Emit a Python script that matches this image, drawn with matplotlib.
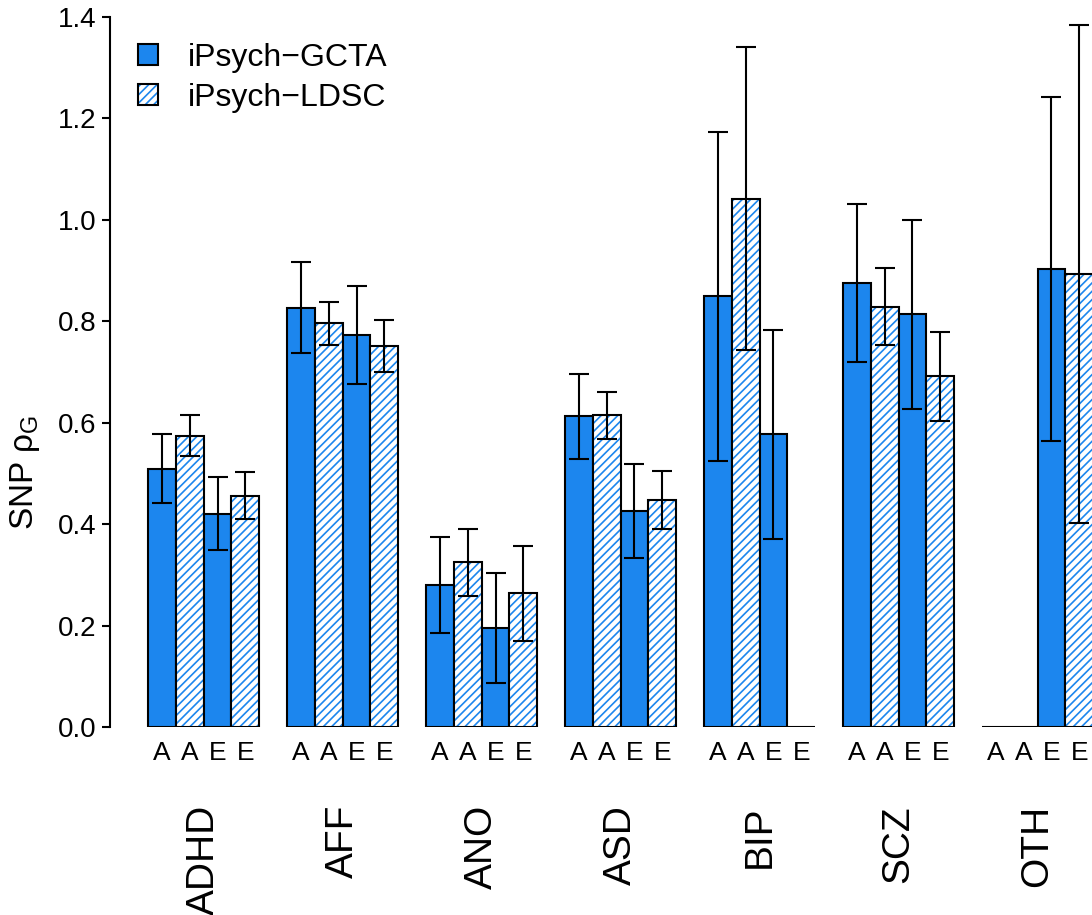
import numpy as np
import matplotlib
matplotlib.use('Agg')
import matplotlib.pyplot as plt
from matplotlib.patches import Patch
from matplotlib.legend_handler import HandlerTuple

plt.rcParams['font.family'] = ['Liberation Sans', 'DejaVu Sans']
plt.rcParams['mathtext.fontset'] = 'custom'
plt.rcParams['mathtext.rm'] = 'Liberation Sans'
plt.rcParams['mathtext.it'] = 'Liberation Sans'
plt.rcParams['hatch.linewidth'] = 1.2

nan = np.nan
groups = ['ADHD', 'AFF', 'ANO', 'ASD', 'BIP', 'SCZ', 'OTH']
sub_labels = ['A', 'A', 'E', 'E']

# GCTA, set A
gcta_a = [0.509, 0.826, 0.280, 0.613, 0.850, 0.876, 0.0]
gcta_a_lo = [0.442, 0.737, 0.185, 0.528, 0.525, 0.720, nan]
gcta_a_hi = [0.578, 0.917, 0.375, 0.696, 1.173, 1.031, nan]

# LDSC, set A
ldsc_a = [0.574, 0.797, 0.325, 0.615, 1.041, 0.829, 0.0]
ldsc_a_lo = [0.534, 0.753, 0.258, 0.568, 0.743, 0.753, nan]
ldsc_a_hi = [0.615, 0.838, 0.390, 0.661, 1.341, 0.905, nan]

# GCTA, set E
gcta_e = [0.420, 0.773, 0.195, 0.426, 0.578, 0.814, 0.903]
gcta_e_lo = [0.349, 0.676, 0.087, 0.333, 0.371, 0.627, 0.564]
gcta_e_hi = [0.493, 0.870, 0.304, 0.519, 0.783, 1.000, 1.242]

# LDSC, set E
ldsc_e = [0.455, 0.751, 0.264, 0.448, 0.0, 0.692, 0.893]
ldsc_e_lo = [0.410, 0.700, 0.170, 0.390, nan, 0.603, 0.402]
ldsc_e_hi = [0.503, 0.803, 0.357, 0.505, nan, 0.779, 1.385]

blue = '#1C86EE'
series = [
    (gcta_a, gcta_a_lo, gcta_a_hi, False),
    (ldsc_a, ldsc_a_lo, ldsc_a_hi, True),
    (gcta_e, gcta_e_lo, gcta_e_hi, False),
    (ldsc_e, ldsc_e_lo, ldsc_e_hi, True),
]

W, H = 1092, 915
fig = plt.figure(figsize=(W / 100, H / 100), dpi=100)
ax = fig.add_axes([110 / W, 188 / H, 982 / W, 710 / H])

# barplot(beside=TRUE) layout: width 1, one unit gap between groups
base = np.arange(len(groups)) * 5 + 1.5
tick_pos = []
for j, (val, lo, hi, hatched) in enumerate(series):
    x = base + j
    tick_pos.extend(x)
    val = np.array(val)
    if hatched:
        ax.bar(x, val, width=1, facecolor='white', edgecolor=blue,
               hatch='////', linewidth=0)
    else:
        ax.bar(x, val, width=1, color=blue, linewidth=0)
    ax.bar(x, val, width=1, fill=False, edgecolor='black', linewidth=1.5)
    yerr = [val - np.array(lo), np.array(hi) - val]
    ax.errorbar(x, val, yerr=yerr, fmt='none', ecolor='black',
                elinewidth=1.5, capsize=7, capthick=1.5, clip_on=False)

ax.set_xlim(-0.37, 34.96)
ax.set_ylim(0, 1.4)

for s in ['top', 'right', 'bottom']:
    ax.spines[s].set_visible(False)
ax.spines['left'].set_linewidth(1.5)
ax.spines['left'].set_bounds(0, 1.4)

ax.set_yticks(np.arange(0, 1.41, 0.2))
ax.set_yticklabels(['%.1f' % v for v in np.arange(0, 1.41, 0.2)])
ax.tick_params(axis='y', labelsize=20, length=6, width=1.5, pad=3.5)

tick_pos = np.array(tick_pos)
order = np.argsort(tick_pos)
ax.set_xticks(tick_pos[order])
ax.set_xticklabels([sub_labels[i // len(groups)] for i in order])
ax.tick_params(axis='x', labelsize=19, length=0, pad=10)

for g, name in zip(base + 1.5, groups):
    ax.text(g, -0.11, name, transform=ax.get_xaxis_transform(),
            rotation=90, ha='center', va='top', fontsize=28)

fig.text(25 / W, 1 - 472 / H, 'SNP $\\rho_{\\mathrm{G}}$', rotation=90,
         ha='center', va='center', fontsize=24)

solid = (Patch(facecolor=blue, linewidth=0),
         Patch(fill=False, edgecolor='black', linewidth=1.5))
striped = (Patch(facecolor='white', edgecolor=blue, hatch='////', linewidth=0),
           Patch(fill=False, edgecolor='black', linewidth=1.5))
ax.legend([solid, striped], ['iPsych\u2212GCTA', 'iPsych\u2212LDSC'],
          handler_map={tuple: HandlerTuple(ndivide=1)},
          loc='upper left', bbox_to_anchor=(138 / W, 1 - 43 / H),
          bbox_transform=fig.transFigure, frameon=False, fontsize=23,
          handlelength=0.62, handleheight=0.62, handletextpad=0.94,
          labelspacing=0.3, borderpad=0, borderaxespad=0)

fig.savefig('out.png', dpi=100)
